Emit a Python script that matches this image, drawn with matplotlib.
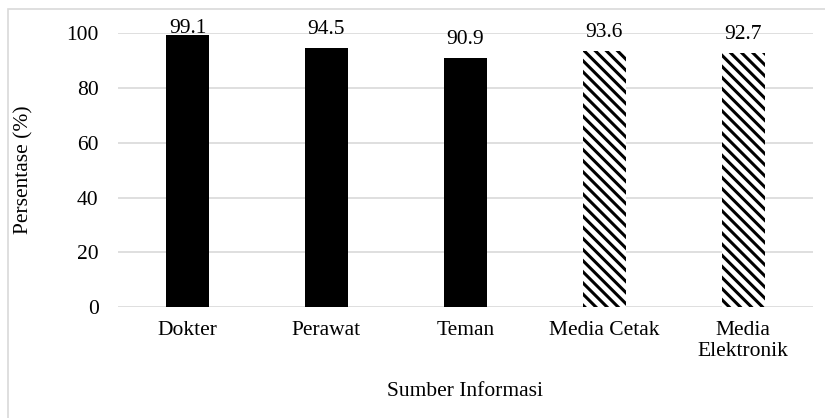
import numpy as np
import matplotlib.pyplot as plt
from matplotlib.patches import Rectangle

# Data
kategori = ['Dokter', 'Perawat', 'Teman', 'Media Cetak', 'Media\nElektronik']
persen = [99.1, 94.5, 90.9, 93.6, 92.7]
pola = ['', '', '', '\\\\\\', '\\\\\\']

plt.rcParams['font.family'] = ['Liberation Serif', 'DejaVu Serif']
plt.rcParams['hatch.linewidth'] = 2.2
fs = 15.5

fig = plt.figure(figsize=(8.25, 4.18), dpi=100)
ax = fig.add_axes([0.143, 0.265, 0.842, 0.656])

x = np.arange(len(kategori))
for i in range(len(kategori)):
    if pola[i]:
        ax.bar(x[i], persen[i], width=0.31, color='white', edgecolor='black',
               linewidth=0, hatch=pola[i], zorder=3)
    else:
        ax.bar(x[i], persen[i], width=0.31, color='black', zorder=3)
    # label di atas batang (tidak melewati batas atas)
    ax.text(x[i], min(persen[i] + 5.1, 100), f'{persen[i]:.1f}',
            ha='center', va='baseline', fontsize=fs, zorder=4)

ax.set_xlim(-0.5, len(kategori) - 0.5)
ax.set_ylim(0, 100)
ax.set_yticks(np.arange(0, 101, 20))
ax.set_xticks(x)
ax.set_xticklabels(kategori, fontsize=fs, linespacing=1.15)
ax.tick_params(axis='y', labelsize=fs, length=0, pad=14)
ax.tick_params(axis='x', length=0, pad=10)
ax.grid(axis='y', color='#d9d9d9', linewidth=1.2, zorder=0)
for s in ax.spines.values():
    s.set_visible(False)

ax.set_ylabel('Persentase (%)', fontsize=fs)
ax.yaxis.set_label_coords(-0.121, 0.5)
ax.set_xlabel('Sumber Informasi', fontsize=fs)
ax.xaxis.set_label_coords(0.5, -0.274)

# bingkai grafik
fig.patches.append(Rectangle((8 / 825, -0.05), 1.2, 1 - 9 / 418 + 0.05,
                             transform=fig.transFigure, fill=False,
                             edgecolor='#d9d9d9', linewidth=1.2))

fig.savefig('out.png', dpi=100)
